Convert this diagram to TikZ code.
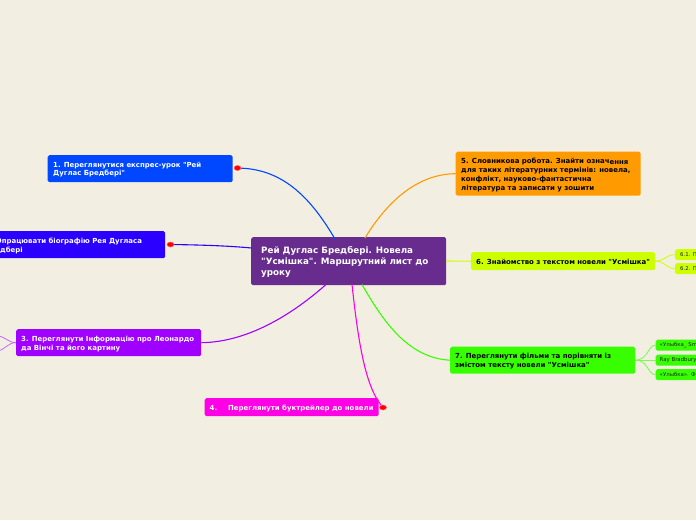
\documentclass[tikz,border=0pt]{standalone}
\usepackage{fontspec}
\setmainfont[Ligatures=TeXOff]{DejaVu Sans}
\usetikzlibrary{shapes.geometric}
\definecolor{bgc}{HTML}{F2EFE2}
\definecolor{cmain}{HTML}{682C8E}
\definecolor{cone}{HTML}{0048FF}
\definecolor{ctwo}{HTML}{2B00FF}
\definecolor{cthree}{HTML}{A000FF}
\definecolor{cfour}{HTML}{FF00E6}
\definecolor{cfive}{HTML}{FF9B00}
\definecolor{csix}{HTML}{CCFF00}
\definecolor{cseven}{HTML}{37FF00}
\tikzset{
  box/.style n args={3}{draw=none,fill=#1,rounded corners=1.6pt,anchor=north west,inner sep=0pt,minimum width=#2,minimum height=#3},
  lbl/.style={anchor=north west,inner sep=0pt,align=left,font=\bfseries\fontsize{6.95}{8.9}\selectfont},
  sub/.style={anchor=west,inner sep=0pt,font=\fontsize{5.4}{6}\selectfont,text=black!85},
  link/.style={line width=1.1pt},
  thin link/.style={line width=.8pt},
  marker/.style={ellipse,fill=red,draw=red!60!white,line width=.5pt,inner sep=0pt,minimum width=7pt,minimum height=5pt}
}
\begin{document}
\begin{tikzpicture}[x=1pt,y=-1pt]
\useasboundingbox (0,0) rectangle (696,520);
\fill[bgc] (0,0) rectangle (696,520);
\clip (0,0) rectangle (696,520);
% boxes
\node[box={cmain}{195pt}{48pt}] (main) at (251,237) {};
\node[box={cone}{185pt}{27pt}] (n1) at (47.5,155) {};
\node[box={ctwo}{188pt}{27pt}] (n2) at (-23,231) {};
\node[box={cthree}{185pt}{27pt}] (n3) at (16,329) {};
\node[box={cfour}{174pt}{18pt}] (n4) at (204.5,398) {};
\node[box={cfive}{185pt}{44pt}] (n5) at (455.5,151.5) {};
\node[box={csix}{184pt}{18pt}] (n6) at (471,252) {};
\node[box={cseven}{185pt}{27pt}] (n7) at (450,346.5) {};
\node[box={csix}{40pt}{11pt}] (n61) at (675,249) {};
\node[box={csix}{40pt}{11pt}] (n62) at (675,263) {};
\node[box={cseven}{60pt}{11pt}] (n71) at (655.5,339.5) {};
\node[box={cseven}{60pt}{11pt}] (n72) at (655.5,354.5) {};
\node[box={cseven}{60pt}{11pt}] (n73) at (655.5,369) {};
% markers
\node[marker] (m1) at (237.5,168) {};
\node[marker] (m2) at (170.5,244.5) {};
\node[marker] (m4) at (383,407.5) {};
% connector ends on the rim of the central topic
\coordinate (e1) at (335,239);
\coordinate (e2) at (251.5,248);
\coordinate (e3) at (326,284.5);
\coordinate (e4) at (352,284.5);
\coordinate (e5) at (365,238);
\coordinate (e7) at (362,284.5);
\coordinate (e6) at (446,261);
% free ends of the clipped sub-branches
\coordinate (l31) at (-2,336);
\coordinate (l32) at (-2,351);
% links from the central topic
\draw[link,cone] (m1) .. controls (285,170) and (312,200) .. (e1);
\draw[link,ctwo] (m2) .. controls (205,245) and (230,246) .. (e2);
\draw[link,cthree] (n3.east) .. controls (250,342) and (295,312) .. (e3);
\draw[link,cfour] (m4) .. controls (365,385) and (358,340) .. (e4);
\draw[link,cfive] (n5.west) .. controls (415,174) and (385,205) .. (e5);
\draw[link,csix] (e6) -- (n6.west);
\draw[link,cseven] (n7.west) .. controls (410,358) and (385,325) .. (e7);
% sub-branches
\draw[thin link,csix] (n6.east) .. controls (665,261) and (665,255) .. (n61.west);
\draw[thin link,csix] (n6.east) .. controls (665,261) and (665,268) .. (n62.west);
\draw[thin link,cseven!70!white] (n7.east) .. controls (648,360) and (648,345) .. (n71.west);
\draw[thin link,cseven!70!white] (n7.east) -- (n72.west);
\draw[thin link,cseven!70!white] (n7.east) .. controls (648,360) and (648,375) .. (n73.west);
\draw[thin link,cthree!60!white] (n3.west) .. controls (8,342.5) and (6,337) .. (l31);
\draw[thin link,cthree!60!white] (n3.west) .. controls (8,342.5) and (6,349) .. (l32);
% labels
\node[anchor=north west,inner sep=0pt,align=left,text=white,font=\bfseries\fontsize{8.75}{11.4}\selectfont] (tm) at (261,246) {Рей Дуглас Бредбері. Новела\\"Усмішка". Маршрутний лист до\\уроку};
\node[lbl,text=white] (t1) at (53,161.5) {1. Переглянутися експрес-урок "Рей\\Дуглас Бредбері"};
\node[lbl,text=white] (t2) at (-15,237.5) {2. Опрацювати біографію Рея Дугласа\\Бредбері};
\node[lbl,text=white] (t3) at (21,336) {3. Переглянути Інформацію про Леонардо\\да Вінчі та його картину};
\node[lbl,text=white] (t4) at (209.5,404.5) {4.\hspace{11pt}Переглянути буктрейлер до новели};
\node[lbl,text=black] (t5) at (461,158) {5. Словникова робота. Знайти означ\raisebox{-1pt}{ення}\\для таких літературних термінів: новела,\\конфлікт, науково-фантастична\\література та записати у зошити};
\node[lbl,text=black] (t6) at (476,259) {6. Знайомство з текстом новели "Усмішка"};
\node[lbl,text=black] (t7) at (455,353) {7. Переглянути фільми та порівняти із\\змістом тексту новели "Усмішка"};
\node[sub] (t61) at (680,254.5) {6.1. П};
\node[sub] (t62) at (680,268.5) {6.2. П};
\node[sub] (t71) at (659.5,345.5) {«Улыбка\_ Sm};
\node[sub] (t72) at (659.5,360.5) {Ray Bradbury};
\node[sub] (t73) at (659.5,374.5) {«Улыбка». Ф};
\end{tikzpicture}
\end{document}
